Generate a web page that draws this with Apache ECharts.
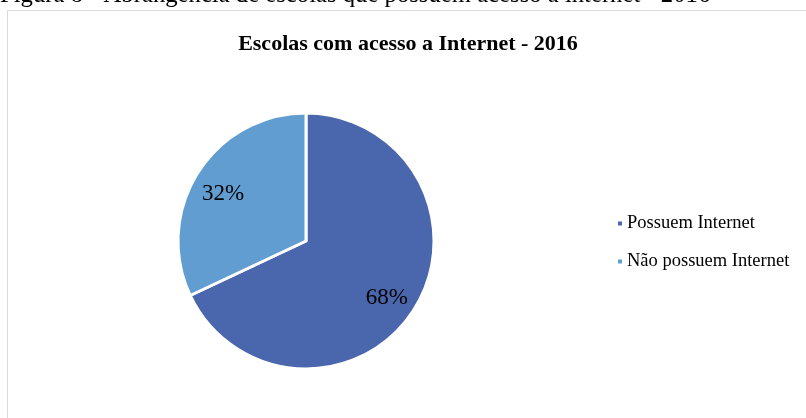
<!DOCTYPE html>
<html>
<head>
<meta charset="utf-8">
<script src="https://cdn.jsdelivr.net/npm/echarts@6/dist/echarts.min.js"></script>
<style>
html,body{margin:0;padding:0;background:#fff;}
#c{width:806px;height:418px;}
</style>
</head>
<body>
<div id="c"></div>
<script>
const categories = ['Possuem Internet', 'Não possuem Internet'];
const values = [68, 32];
const colors = ['#4A66AC', '#629DD1'];
const titleText = 'Escolas com acesso a Internet - 2016';
const captionText = 'Figura 8 - Abrangência de escolas que possuem acesso a internet - 2016';

const data = categories.map((n, i) => ({ name: n, value: values[i], itemStyle: { color: colors[i] } }));
const serif = '"Liberation Serif", "Times New Roman", serif';

const chart = echarts.init(document.getElementById('c'), null, { renderer: 'canvas' });
chart.setOption({
  animation: false,
  backgroundColor: '#fff',
  title: {
    text: titleText,
    left: 408, top: 33, textAlign: 'center', padding: 0,
    textStyle: { fontFamily: serif, fontSize: 22, fontWeight: 'bold', color: '#000' }
  },
  graphic: [
    { type: 'rect', shape: { x: 7.5, y: 10.5, width: 820, height: 440 },
      style: { fill: 'none', stroke: '#d9d9d9', lineWidth: 1 }, z: -1 },
    { type: 'text', left: 0, top: -17,
      style: { text: captionText, font: '24.7px ' + serif, fill: '#000' } }
  ],
  legend: {
    orient: 'vertical', left: 611, top: 209,
    itemWidth: 6, itemHeight: 6, itemGap: 19, icon: 'rect',
    data: categories,
    textStyle: { fontFamily: serif, fontSize: 18.5, color: '#000', padding: [0, 0, 0, -1] }
  },
  series: [
    {
      type: 'pie', center: [306, 241], radius: [0, 128],
      startAngle: 90, clockwise: true,
      label: { show: false }, labelLine: { show: false },
      itemStyle: { borderColor: '#fff', borderWidth: 3 },
      emphasis: { disabled: true },
      data: data
    },
    {
      type: 'pie', center: [306, 241], radius: [60, 128],
      startAngle: 90, clockwise: true, silent: true,
      legendHoverLink: false,
      itemStyle: { color: 'rgba(0,0,0,0)', borderWidth: 0 },
      label: { show: true, position: 'inside', formatter: '{c}%',
        fontFamily: serif, fontSize: 23, color: '#000', offset: [-1, 5] },
      labelLine: { show: false },
      emphasis: { disabled: true },
      data: categories.map((n, i) => ({ name: n + ' ', value: values[i], itemStyle: { color: 'rgba(0,0,0,0)' } }))
    }
  ]
});
</script>
</body>
</html>
